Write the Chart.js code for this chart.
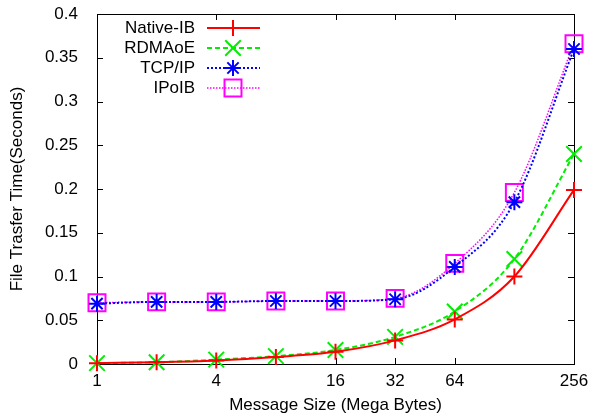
<!DOCTYPE html>
<html>
<head>
<meta charset="utf-8">
<script src="https://cdn.jsdelivr.net/npm/chart.js@4/dist/chart.umd.min.js"></script>
<style>
  html, body { margin: 0; background: #fff; }
</style>
</head>
<body>
<canvas id="grafica" width="591" height="418"></canvas>
<script>
// datos
const tamanos = [1, 2, 4, 8, 16, 32, 64, 128, 256];
const nativeIB = [0.001, 0.002, 0.004, 0.008, 0.014, 0.027, 0.051, 0.100, 0.199];
const rdmaoe   = [0.001, 0.002, 0.005, 0.009, 0.016, 0.031, 0.060, 0.120, 0.240];
const tcpip    = [0.069, 0.071, 0.071, 0.072, 0.072, 0.074, 0.111, 0.185, 0.360];
const ipoib    = [0.070, 0.071, 0.071, 0.072, 0.072, 0.075, 0.115, 0.196, 0.366];
const ticksX = [1, 4, 16, 32, 64, 256];
const ticksY = [0, 0.05, 0.1, 0.15, 0.2, 0.25, 0.3, 0.35, 0.4];

const fuente = { family: 'Liberation Sans, Arial, sans-serif', size: 17 };
const puntos = serie => serie.map((v, i) => ({ x: Math.log2(tamanos[i]), y: v }));

// marco y ticks hacia adentro (estilo gnuplot)
const marco = {
  id: 'marco',
  beforeDatasetsDraw(chart) {
    const { ctx, chartArea: a, scales: { x, y } } = chart;
    ctx.save();
    ctx.strokeStyle = '#000';
    ctx.lineWidth = 1;
    ctx.beginPath();
    ticksY.forEach(v => {
      const py = Math.round(y.getPixelForValue(v)) + 0.5;
      ctx.moveTo(a.left, py); ctx.lineTo(a.left + 6, py);
      ctx.moveTo(a.right, py); ctx.lineTo(a.right - 6, py);
    });
    ticksX.forEach(v => {
      const px = Math.round(x.getPixelForValue(Math.log2(v))) + 0.5;
      ctx.moveTo(px, a.bottom); ctx.lineTo(px, a.bottom - 6);
      ctx.moveTo(px, a.top); ctx.lineTo(px, a.top + 6);
    });
    ctx.stroke();
    ctx.strokeRect(Math.round(a.left) + 0.5, Math.round(a.top) + 0.5,
      Math.round(a.right - a.left), Math.round(a.bottom - a.top));
    ctx.restore();
  }
};

// leyenda dentro del grafico, texto a la derecha
const leyenda = {
  id: 'leyenda',
  afterDatasetsDraw(chart) {
    const ctx = chart.ctx;
    ctx.save();
    chart.data.datasets.forEach((ds, i) => {
      const py = 28 + i * 20;
      ctx.font = fuente.size + 'px ' + fuente.family;
      ctx.fillStyle = '#000';
      ctx.textAlign = 'right';
      ctx.textBaseline = 'middle';
      ctx.fillText(ds.label, 195, py);
      ctx.strokeStyle = ds.borderColor;
      ctx.lineWidth = ds.borderWidth;
      ctx.setLineDash(ds.borderDash || []);
      ctx.beginPath();
      ctx.moveTo(207, py); ctx.lineTo(260, py);
      ctx.stroke();
      ctx.setLineDash([]);
      ctx.fillStyle = 'rgba(0,0,0,0)';
      ctx.lineWidth = ds.pointBorderWidth;
      Chart.helpers.drawPoint(ctx, {
        pointStyle: ds.pointStyle, radius: ds.pointRadius, rotation: 0, borderWidth: ds.pointBorderWidth
      }, 233, py);
    });
    ctx.restore();
  }
};

function serie(label, datos, color, dash, ancho, estilo, radio) {
  return {
    label: label,
    data: puntos(datos),
    borderColor: color,
    borderWidth: ancho,
    borderDash: dash,
    pointStyle: estilo,
    pointRadius: radio,
    pointBorderWidth: 2,
    pointBorderColor: color,
    pointBackgroundColor: 'rgba(0,0,0,0)',
    cubicInterpolationMode: 'monotone',
    clip: false
  };
}

new Chart(document.getElementById('grafica').getContext('2d'), {
  type: 'line',
  data: {
    datasets: [
      serie('Native-IB', nativeIB, '#ff0000', [], 2, 'cross', 8),
      serie('RDMAoE', rdmaoe, '#00ee00', [5, 3], 2, 'crossRot', 11),
      serie('TCP/IP', tcpip, '#0000ff', [2, 2], 2, 'star', 8),
      serie('IPoIB', ipoib, '#ff00ff', [1.5, 1.5], 1.5, 'rect', 12)
    ]
  },
  options: {
    responsive: false,
    animation: false,
    layout: { padding: { left: 4, top: 13, right: 17, bottom: 1 } },
    plugins: { legend: { display: false }, tooltip: { enabled: false } },
    scales: {
      x: {
        type: 'linear',
        min: 0, max: 8,
        grid: { display: false, tickLength: 0 },
        border: { display: false },
        afterBuildTicks: s => { s.ticks = ticksX.map(v => ({ value: Math.log2(v) })); },
        afterFit: s => { s.height = 53; s.paddingLeft = 0; s.paddingRight = 0; },
        ticks: {
          color: '#000', font: fuente, padding: 7, maxRotation: 0, autoSkip: false,
          callback: v => String(Math.pow(2, v))
        },
        title: { display: true, text: 'Message Size (Mega Bytes)', color: '#000', font: fuente, padding: { top: 0, bottom: 1 } }
      },
      y: {
        min: 0, max: 0.4,
        grid: { display: false },
        border: { display: false },
        afterBuildTicks: s => { s.ticks = ticksY.map(v => ({ value: v })); },
        afterFit: s => { s.width = 93; s.paddingTop = 0; s.paddingBottom = 0; },
        ticks: {
          color: '#000', font: fuente, padding: 11,
          callback: v => String(+v.toFixed(2))
        },
        title: { display: true, text: 'File Trasfer Time(Seconds)', color: '#000', font: fuente, padding: { top: 3, bottom: 0 } }
      }
    }
  },
  plugins: [marco, leyenda]
});
</script>
</body>
</html>
